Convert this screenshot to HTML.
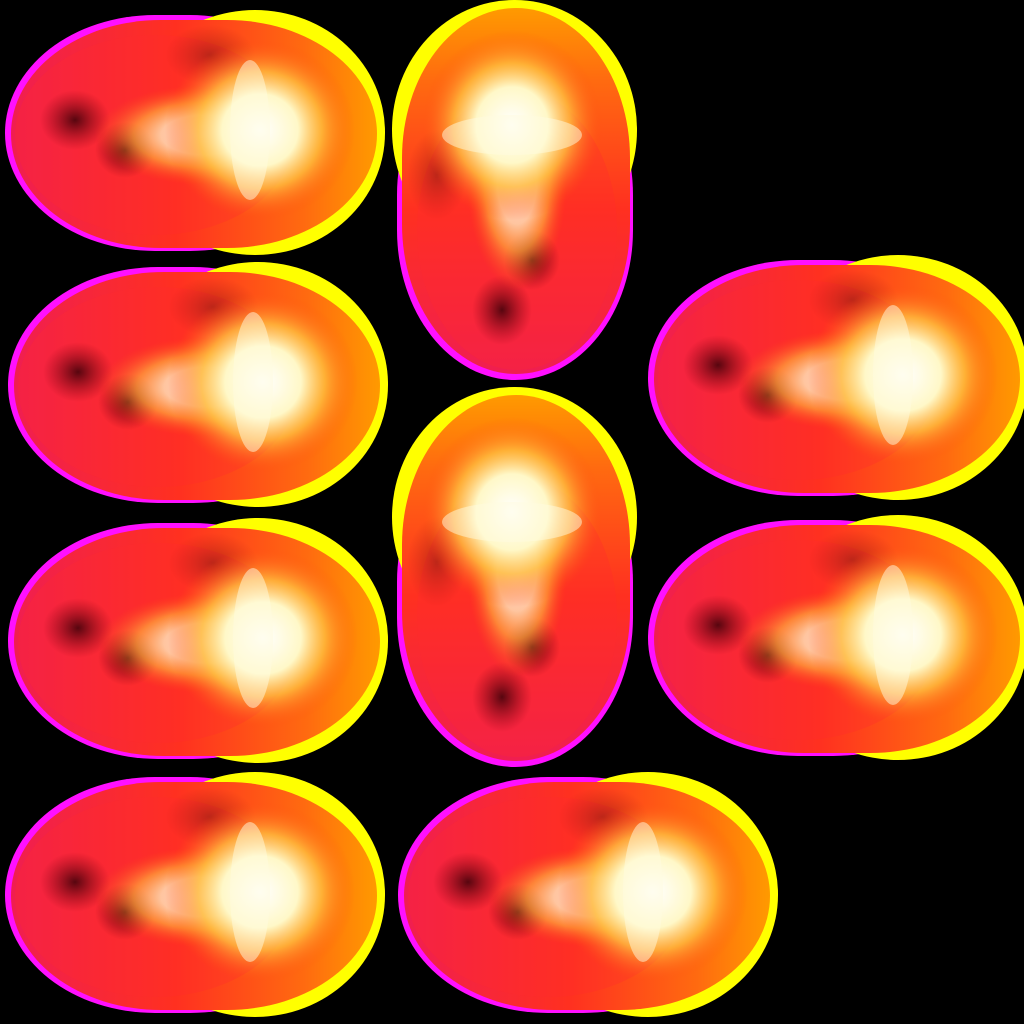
<!DOCTYPE html>
<html><head><meta charset="utf-8"><style>
html,body{margin:0;padding:0;background:#000;width:1024px;height:1024px;overflow:hidden}
svg{display:block}
</style></head><body>
<svg width="1024" height="1024" viewBox="0 0 1024 1024">
<defs>
  <linearGradient id="body" x1="0" y1="0" x2="1" y2="0">
    <stop offset="0" stop-color="#f01e50"/>
    <stop offset="0.45" stop-color="#ff3020"/>
    <stop offset="0.8" stop-color="#ff6a10"/>
    <stop offset="1" stop-color="#ff9a00"/>
  </linearGradient>
  <radialGradient id="core" cx="0.5" cy="0.5" r="0.5">
    <stop offset="0" stop-color="#ffffff"/>
    <stop offset="0.4" stop-color="#fff8c8"/>
    <stop offset="0.65" stop-color="#ffc040" stop-opacity="0.8"/>
    <stop offset="1" stop-color="#ff5010" stop-opacity="0"/>
  </radialGradient>
  <radialGradient id="dark" cx="0.5" cy="0.5" r="0.5">
    <stop offset="0" stop-color="#3a0008" stop-opacity="0.85"/>
    <stop offset="1" stop-color="#800010" stop-opacity="0"/>
  </radialGradient>
  <g id="fb">
    <rect x="0" y="5" width="335" height="236" rx="150" ry="118" fill="#ff10ff"/>
    <rect x="120" y="0" width="260" height="245" rx="130" ry="122" fill="#ffff00"/>
    <rect x="6" y="10" width="366" height="228" rx="150" ry="114" fill="url(#body)"/>
    <ellipse cx="150" cy="125" rx="140" ry="100" fill="#ff2a30" opacity="0.3"/>
    <ellipse cx="70" cy="110" rx="35" ry="30" fill="url(#dark)"/>
    <ellipse cx="120" cy="140" rx="30" ry="28" fill="url(#dark)"/>
    <ellipse cx="205" cy="45" rx="45" ry="30" fill="url(#dark)" opacity="0.4"/>
    <ellipse cx="200" cy="125" rx="110" ry="50" fill="url(#core)" opacity="0.75"/>
    <ellipse cx="255" cy="120" rx="95" ry="90" fill="url(#core)"/>
    <ellipse cx="245" cy="120" rx="20" ry="70" fill="#fffbe0" opacity="0.5"/>
  </g>
</defs>
<g><use href="#fb" transform="translate(5,10)"/></g>
<g><use href="#fb" transform="translate(392,380) rotate(-90)"/></g>
<g><use href="#fb" transform="translate(8,262)"/></g>
<g><use href="#fb" transform="translate(648,255)"/></g>
<g><use href="#fb" transform="translate(392,767) rotate(-90)"/></g>
<g><use href="#fb" transform="translate(8,518)"/></g>
<g><use href="#fb" transform="translate(648,515)"/></g>
<g><use href="#fb" transform="translate(5,772)"/></g>
<g><use href="#fb" transform="translate(398,772)"/></g>
</svg>
</body></html>
